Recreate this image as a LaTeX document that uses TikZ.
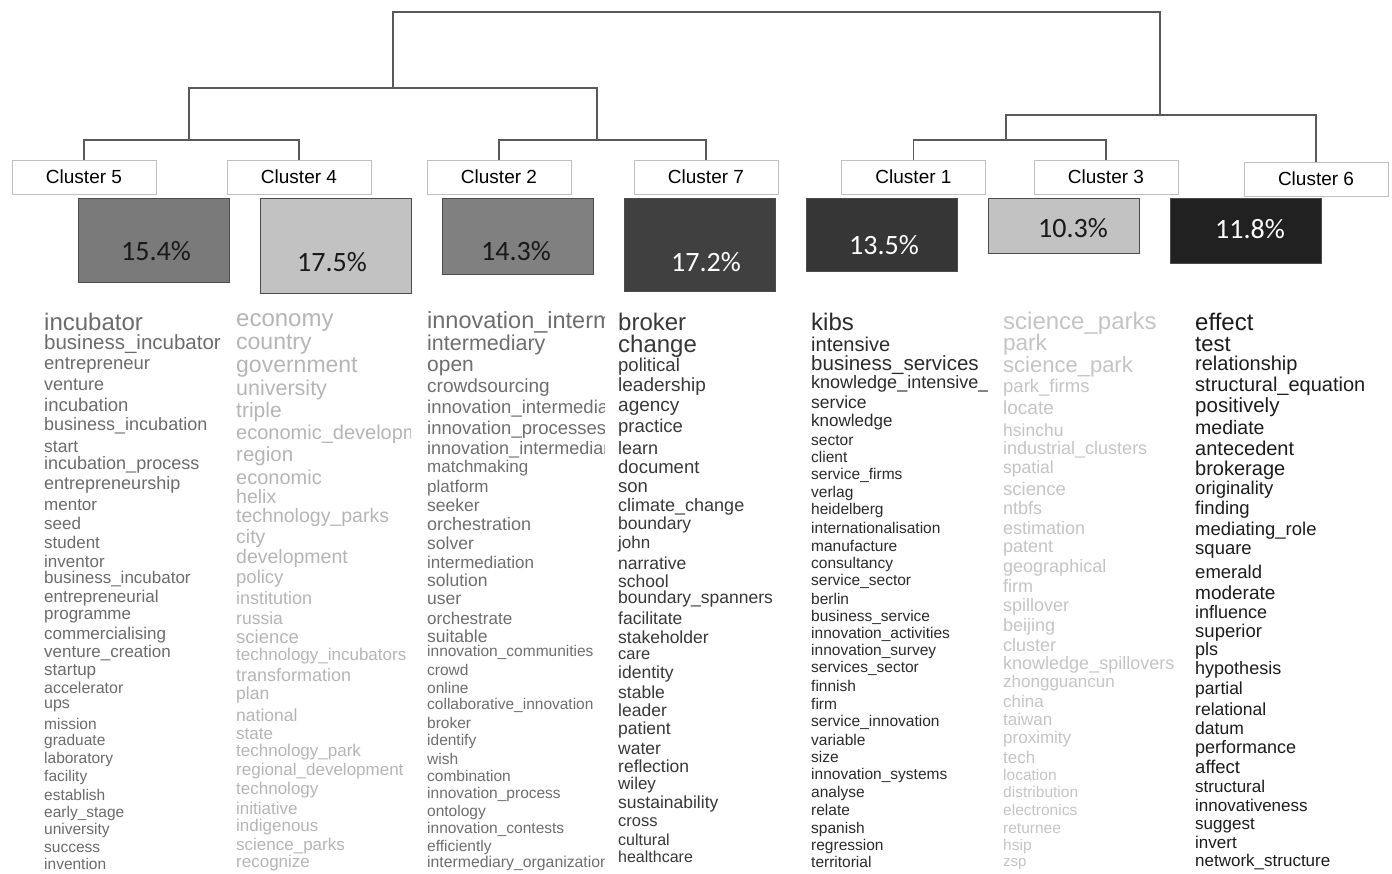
\documentclass[tikz,border=0pt]{standalone}
\usepackage{fontspec}
\setmainfont{Liberation Sans}
\newfontfamily\pctfont{Carlito}
\definecolor{cfive}{HTML}{6B6B6B}
\definecolor{cfour}{HTML}{B5B5B5}
\definecolor{ctwo}{HTML}{6E6E6E}
\definecolor{cseven}{HTML}{383838}
\definecolor{cone}{HTML}{2B2B2B}
\definecolor{cthree}{HTML}{C4C4C4}
\definecolor{csix}{HTML}{1C1C1C}
% columna de palabras: nombre, x, borde derecho, color, lista palabra/tam/y
\newcommand{\wordcol}[5]{%
  \begin{scope}
    \clip (#2-3,300) rectangle (#3,873);
    \foreach \w/\s/\y [count=\i] in {#5}
      \node[word, text=#4, font=\fontsize{\s pt}{\s pt}\selectfont] (#1-\i) at (#2,\y+0.3*\s) {\w};
  \end{scope}}

\begin{document}
\begin{tikzpicture}[x=1pt, y=-1pt,
    word/.style={anchor=base west, inner sep=0pt},
    clab/.style={draw=black!25, fill=white, minimum width=144pt, minimum height=34pt, inner sep=0pt, font=\fontsize{19pt}{19pt}\selectfont},
    pbox/.style={draw=black!70, line width=0.8pt, minimum width=151pt, anchor=north, inner sep=0pt},
    pct/.style={font=\pctfont\fontsize{28pt}{28pt}\selectfont, inner sep=0pt},
    tree/.style={draw=black!65, line width=1.3pt}]
        \useasboundingbox (0,0) rectangle (1392,873);
        \clip (0,0) rectangle (1392,873);
        % etiquetas de los clusters
        \node[clab] (c5) at (84,177) {Cluster 5};
        \node[clab] (c4) at (299,177) {Cluster 4};
        \node[clab] (c2) at (499,177) {Cluster 2};
        \node[clab] (c7) at (706,177) {Cluster 7};
        \node[clab] (c1) at (913.5,177) {Cluster 1};
        \node[clab] (c3) at (1106,177) {Cluster 3};
        \node[clab] (c6) at (1316,179) {Cluster 6};
        % dendrograma
        \coordinate (j54) at (189,140);
        \coordinate (j27) at (597,140);
        \coordinate (j13) at (1006,140);
        \coordinate (jl) at (393,88);
        \coordinate (jr) at (1160,115);
        \coordinate (root) at (776,12);
        \draw[tree] (c5.north) |- (j54) -| (c4.north);
        \draw[tree] (c2.north) |- (j27) -| (c7.north);
        \draw[tree] (c1.north) |- (j13) -| (c3.north);
        \draw[tree] (j54) |- (jl) -| (j27);
        \draw[tree] (j13) |- (jr) -| (c6.north);
        \draw[tree] (jl) |- (root) -| (jr);
        % porcentajes
        \node[pbox, fill=black!52, minimum height=84pt] (p5) at (153.5,198) {};
        \node[pbox, fill=black!24, minimum height=95pt] (p4) at (335.5,198) {};
        \node[pbox, fill=black!50, minimum height=76pt] (p2) at (517.5,198) {};
        \node[pbox, fill=black!75, minimum height=93pt] (p7) at (699.5,198) {};
        \node[pbox, fill=black!79, minimum height=73pt] (p1) at (881.5,198) {};
        \node[pbox, fill=black!24, minimum height=55pt] (p3) at (1063.5,198) {};
        \node[pbox, fill=black!87, minimum height=65pt] (p6) at (1246,198) {};
        \node[pct, text=black!90] (t5) at (156,251) {15.4\%};
        \node[pct, text=black!90] (t4) at (332,262) {17.5\%};
        \node[pct, text=black!90] (t2) at (516,251) {14.3\%};
        \node[pct, text=white] (t7) at (706,262) {17.2\%};
        \node[pct, text=white] (t1) at (884,245) {13.5\%};
        \node[pct, text=black!90] (t3) at (1073,228) {10.3\%};
        \node[pct, text=white] (t6) at (1250,229) {11.8\%};
        % palabras
        \wordcol{w5}{44}{228}{cfive}{incubator/24/323, business\_incubator/20.5/343, entrepreneur/18.5/364, venture/18/385, incubation/18.5/406, business\_incubation/18/425, start/17.5/447, incubation\_process/18/464, entrepreneurship/18/484, mentor/17/505, seed/17/524, student/17/543, inventor/17/562, business\_incubator/17/578, entrepreneurial/17/597, programme/17/614, commercialising/17/634, venture\_creation/17/652, startup/17/670, accelerator/16/689, ups/16/704, mission/15.5/725, graduate/15.5/741, laboratory/15.5/759, facility/15.5/777, establish/15.5/796, early\_stage/15.5/813, university/15.5/830, success/15.5/848, invention/15.5/865}
        \wordcol{w4}{236}{410}{cfour}{economy/24/319, country/23/343, government/23/366, university/21.5/389, triple/21/411, economic\_development/20/433, region/20.5/455, economic/20/478, helix/19.5/498, technology\_parks/19.5/517, city/19.5/538, development/19.5/558, policy/18.5/578, institution/18/599, russia/17.5/619, science/18.5/638, technology\_incubators/17/655, transformation/18/676, plan/17.5/694, national/17.5/716, state/17/734, technology\_park/17/751, regional\_development/17/770, technology/17/789, initiative/17/809, indigenous/17/826, science\_parks/17/845, recognize/17/862}
        \wordcol{w2}{427}{604}{ctwo}{innovation\_intermediaries/23.5/321, intermediary/21.5/344, open/21/365, crowdsourcing/19/387, innovation\_intermediation/18.5/408, innovation\_processes/18.5/429, innovation\_intermediary/18/449, matchmaking/17/467, platform/17/487, seeker/17.5/506, orchestration/18/525, solver/17.5/544, intermediation/17/563, solution/17.5/581, user/17.5/599, orchestrate/17/619, suitable/17.5/637, innovation\_communities/15.5/652, crowd/15.5/671, online/15.5/689, collaborative\_innovation/15.5/705, broker/15.5/724, identify/15.5/741, wish/15.5/760, combination/15.5/777, innovation\_process/15.5/794, ontology/15.5/812, innovation\_contests/15.5/829, efficiently/15.5/847, intermediary\_organization/15.8/863}
        \wordcol{w7}{618}{790}{cseven}{broker/24/323, change/24/345, political/18.5/366, leadership/19/386, agency/19/406, practice/18.5/427, learn/18/449, document/18.5/468, son/18.5/487, climate\_change/18/506, boundary/17.5/524, john/17/543, narrative/17.5/564, school/17.5/582, boundary\_spanners/17.5/598, facilitate/17.5/619, stakeholder/17.5/638, care/16.5/655, identity/17.5/673, stable/17.5/693, leader/17.5/711, patient/17.5/729, water/17.5/749, reflection/17.5/767, wiley/17/784, sustainability/17.5/803, cross/16.5/822, cultural/16/841, healthcare/16/858}
        \wordcol{w1}{811}{987}{cone}{kibs/24/323, intensive/20/345, business\_services/20.5/364, knowledge\_intensive\_business/18/383, service/17.5/403, knowledge/17/421, sector/15.5/441, client/15.5/458, service\_firms/15.5/475, verlag/15.5/493, heidelberg/15.5/510, internationalisation/15.5/529, manufacture/15.5/547, consultancy/15.5/564, service\_sector/15.5/581, berlin/15.5/600, business\_service/15.5/617, innovation\_activities/15.5/634, innovation\_survey/15.5/651, services\_sector/15.5/668, finnish/15.5/687, firm/15.5/705, service\_innovation/15.5/722, variable/15.5/741, size/15.5/758, innovation\_systems/15.5/775, analyse/15.5/793, relate/15.5/811, spanish/15.5/829, regression/15.5/846, territorial/15.5/863}
        \wordcol{w3}{1003}{1185}{cthree}{science\_parks/24/322, park/22.5/344, science\_park/22/366, park\_firms/18.5/387, locate/19/409, hsinchu/17.5/431, industrial\_clusters/18/449, spatial/17.5/468, science/18.5/490, ntbfs/18/509, estimation/18/529, patent/18/547, geographical/18/567, firm/18/587, spillover/18/606, beijing/18/626, cluster/18/646, knowledge\_spillovers/18/664, zhongguancun/17/682, china/17/702, taiwan/17/720, proximity/17/738, tech/17/758, location/15.5/776, distribution/15.5/793, electronics/15.5/811, returnee/15.5/829, hsip/15.5/846, zsp/15/862}
        \wordcol{w6}{1195}{1392}{csix}{effect/24/323, test/22/345, relationship/20/364, structural\_equation/20/385, positively/20.5/406, mediate/19.5/429, antecedent/20/449, brokerage/20/469, originality/18.5/489, finding/18.5/509, mediating\_role/18.5/530, square/18.5/549, emerald/18.5/573, moderate/19/594, influence/18/613, superior/18.5/632, pls/18/650, hypothesis/18/669, partial/17.5/689, relational/17.5/710, datum/17.5/729, performance/18/748, affect/18.5/768, structural/17/787, innovativeness/17/806, suggest/17/824, invert/17/843, network\_structure/17/861}
    \end{tikzpicture}
\end{document}
